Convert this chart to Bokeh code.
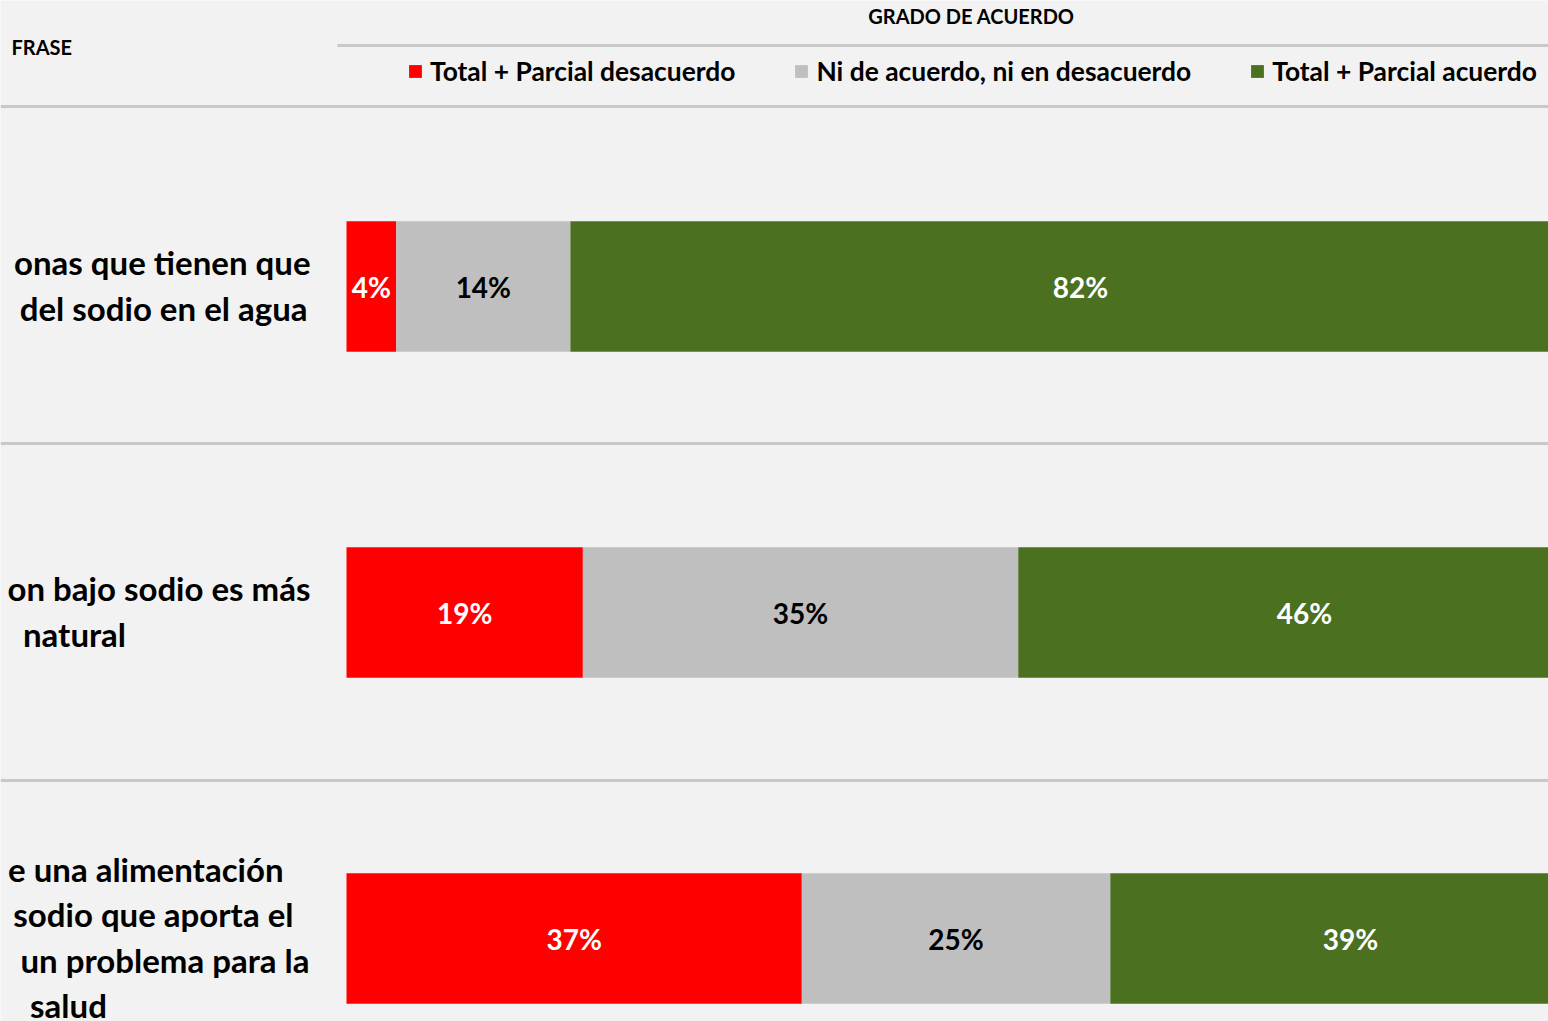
from bokeh.plotting import figure
from bokeh.models import ColumnDataSource, Range1d, Span, Legend, LegendItem
from bokeh.core.properties import value
from bokeh.embed import file_html
from bokeh.resources import INLINE
import numpy as np

# ---------------- data ----------------
categories = ["Total + Parcial desacuerdo", "Ni de acuerdo, ni en desacuerdo", "Total + Parcial acuerdo"]
rows = [0, 1, 2]
desacuerdo = [4.0, 19.0, 36.6]
neutral = [14.0, 35.0, 24.8]
acuerdo = [82.0, 46.0, 38.6]
row_label_lines = [
    ["onas que tienen que", "del sodio en el agua"],
    ["on bajo sodio es más", "natural"],
    ["e una alimentación", " sodio que aporta el", "un problema para la", "salud"],
]
header_left = "FRASE"
header_right = "GRADO DE ACUERDO"

# ---------------- style / layout ----------------
colors = ["#ff0000", "#bfbfbf", "#4b7020"]
label_colors = ["white", "black", "white"]
BG = "#f2f2f2"
LINE = "#c8c8c8"
FONT = "Lato"
W, H = 1548, 1021
PX_PER_PCT = 12.44
BAR_X0 = 346          # canvas px of 0 %
ROW0_Y, ROW_STEP = 286, 326


def dx(sx):
    return (sx - BAR_X0) / PX_PER_PCT


def dy(sy):
    return (sy - ROW0_Y) / ROW_STEP


p = figure(width=W, height=H, output_backend="svg", toolbar_location=None,
           x_range=Range1d(dx(0), dx(W)), y_range=Range1d(dy(H), dy(0)),
           min_border=0, background_fill_color=BG, border_fill_color=BG,
           outline_line_color=None)
p.xaxis.visible = False
p.yaxis.visible = False
p.xgrid.visible = False
p.ygrid.visible = False

keys = ["desacuerdo", "neutral", "acuerdo"]
src = ColumnDataSource(dict(row=rows, desacuerdo=desacuerdo, neutral=neutral, acuerdo=acuerdo))
renderers = p.hbar_stack(keys, y="row", height=0.4, color=colors, line_color=None, source=src)

# percent labels at segment centers
vals = np.array([desacuerdo, neutral, acuerdo])
cum = np.cumsum(vals, axis=0)
for k in range(3):
    centers = cum[k] - vals[k] / 2
    txt = [f"{round(v)}%" for v in vals[k]]
    p.text(x=list(centers), y=rows, text=txt, text_align="center", text_baseline="middle",
           text_color=label_colors[k], text_font=value(FONT), text_font_style="bold",
           text_font_size="28px")

# row labels (left part cut off in the original crop)
line_step = 45.5 / ROW_STEP
anchors = [
    [("right", 310), ("right", 307)],
    [("right", 310), ("center", 74)],
    [("right", 283), ("right", 301), ("right", 309), ("center", 68)],
]
for r, lines in enumerate(row_label_lines):
    n = len(lines)
    for i, ln in enumerate(lines):
        al, sx = anchors[r][i]
        p.text(x=[dx(sx)], y=[r + (i - (n - 1) / 2) * line_step - 1.5 / ROW_STEP], text=[ln],
               text_align=al, text_baseline="middle", text_color="black",
               text_font=value(FONT), text_font_style="bold", text_font_size="33px")

# separators
for sy in (106, 443, 780):
    p.add_layout(Span(location=dy(sy), dimension="width", line_color=LINE, line_width=3))
p.segment(x0=[dx(337)], y0=[dy(45)], x1=[dx(1600)], y1=[dy(45)], line_color=LINE, line_width=3)

# headers
p.text(x=[dx(11)], y=[dy(46)], text=[header_left], text_align="left", text_baseline="middle",
       text_font=value(FONT), text_font_style="bold", text_font_size="20px", text_color="black")
p.text(x=[dx(971)], y=[dy(15)], text=[header_right], text_align="center", text_baseline="middle",
       text_font=value(FONT), text_font_style="bold", text_font_size="20px", text_color="black")

legend = Legend(items=[LegendItem(label=c, renderers=[r]) for c, r in zip(categories, renderers)],
                orientation="horizontal", location=(407, H - 87), spacing=58,
                glyph_width=16, glyph_height=16, label_standoff=7, padding=0, margin=0,
                border_line_color=None, background_fill_alpha=0,
                label_text_font=FONT, label_text_font_style="bold",
                label_text_font_size="26.4px", label_text_color="black")
p.add_layout(legend)

open("out.html", "w").write(file_html(p, INLINE))
